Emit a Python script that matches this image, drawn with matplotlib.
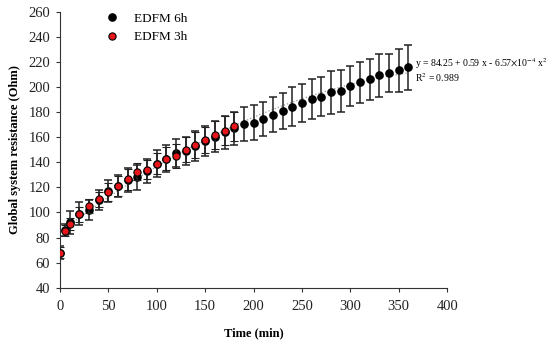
import matplotlib
matplotlib.use("Agg")
import matplotlib.pyplot as plt
from matplotlib.lines import Line2D
import numpy as np

plt.rcParams['font.family'] = ['Liberation Serif', 'DejaVu Serif']
plt.rcParams['mathtext.fontset'] = 'stix'

time_6h = [0, 5, 10, 20, 30, 40, 50, 60, 70, 80, 90, 100, 110, 120, 130, 140, 150, 160, 170, 180,
           190, 200, 210, 220, 230, 240, 250, 260, 270, 280, 290, 300, 310, 320, 330, 340, 350, 360]
res_6h = [68, 86, 92, 99, 102, 110, 117, 121, 126, 128, 133, 139, 143, 147.5, 149, 153, 157, 160.5, 164, 167,
          170.5, 171.5, 174.4, 177.9, 181, 184.5, 187.3, 190.3, 192.4, 195.9, 196.9, 200.9, 204, 206.2, 209.6, 211.2, 213.3, 216]
sd_6h = [5, 5, 9, 9, 8, 8, 9, 9, 9.5, 10, 9.5, 10.5, 11, 11, 11.5, 12, 12, 12.5, 13, 13.5,
         13.7, 14, 13.7, 14, 14.3, 15.5, 15.5, 16, 15.5, 17, 16.5, 16.3, 16.3, 16.3, 17.2, 15, 17.5, 18]

time_3h = [0, 5, 10, 20, 30, 40, 50, 60, 70, 80, 90, 100, 110, 120, 130, 140, 150, 160, 170, 180]
res_3h = [67.8, 85.5, 90.6, 98.7, 105.4, 110.4, 116.2, 121, 126.3, 132.6, 134.2, 139, 143, 145.3, 150,
          154, 157.8, 162, 165.2, 168.9]
sd_3h = [4.5, 4.5, 5, 6, 5.5, 6, 7, 8, 8.5, 6.5, 7.5, 8.5, 9, 9.5, 10, 10.5, 10.5, 11, 11.5, 11.5]

fit_c = [84.25, 0.59, -6.57e-4]
eq_text = r"y = 84.25 + 0.59 x - 6.57$\times$10$^{-4}$ x$^{2}$"
r2_text = r"R$^{2}$ = 0.989"

fig = plt.figure(figsize=(5.5, 3.42), dpi=100)
ax = fig.add_axes([0.109, 0.159, 0.704, 0.806])

xf = np.linspace(0, 360, 200)
yf = fit_c[0] + fit_c[1] * xf + fit_c[2] * xf ** 2
ax.plot(xf, yf, linestyle=':', color='#999999', lw=0.9, zorder=1)

ax.errorbar(time_6h, res_6h, yerr=sd_6h, fmt='o', color='black', ecolor='#222222',
            elinewidth=1.1, capsize=2.8, capthick=1.1, markersize=5.2, zorder=2)
ax.errorbar(time_3h, res_3h, yerr=sd_3h, fmt='o', mfc='#e8161b', mec='black', mew=0.8,
            ecolor='#222222', elinewidth=1.1, capsize=2.8, capthick=1.1, markersize=5.2,
            zorder=3)

ax.text(367, 219, eq_text, fontsize=7, va='center', ha='left', clip_on=False)
ax.text(367, 208, r2_text, fontsize=7, va='center', ha='left', clip_on=False)

ax.set_xlim(0, 400)
ax.set_ylim(40, 260)
ax.set_xticks(range(0, 401, 50))
ax.set_yticks(range(40, 261, 20))
ax.spines['top'].set_visible(False)
ax.spines['right'].set_visible(False)
for s in ['left', 'bottom']:
    ax.spines[s].set_color('#333333')
ax.tick_params(axis='both', direction='out', length=3, labelsize=10.5, width=0.8,
               colors='#333333', labelcolor='#222222')
ax.tick_params(axis='x', pad=6)
ax.tick_params(axis='y', pad=4)
ax.set_xlabel('Time (min)', fontsize=9, fontweight='bold', labelpad=10)
ax.set_ylabel('Global system resistance (Ohm)', fontsize=9, fontweight='bold', labelpad=5)

handles = [Line2D([], [], marker='o', ls='none', color='black', markersize=5.2),
           Line2D([], [], marker='o', ls='none', mfc='#e8161b', mec='black', mew=0.8, markersize=5.2)]
ax.legend(handles, ['EDFM 6h', 'EDFM 3h'], loc='upper left', bbox_to_anchor=(0.079, 1.04),
          frameon=False, fontsize=9.5, handletextpad=0.9, labelspacing=0.45, handlelength=1.5)

fig.savefig('out.png', dpi=100)
